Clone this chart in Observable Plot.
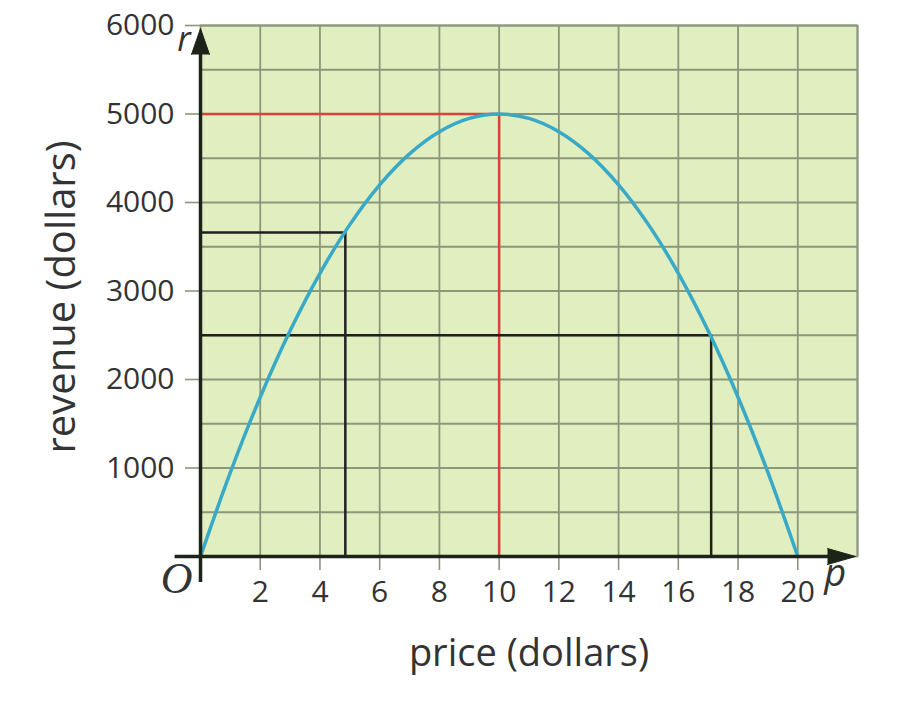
<!DOCTYPE html>
<html>
<head>
<meta charset="utf-8">
<script src="https://cdn.jsdelivr.net/npm/d3@7"></script>
<script src="https://cdn.jsdelivr.net/npm/@observablehq/plot@0.6"></script>
<style>
  body { margin: 0; background: #ffffff; }
</style>
</head>
<body>
<div id="chart"></div>
<script>
// ---- Data ----
const price   = [0, 1, 2, 3, 4, 5, 6, 7, 8, 9, 10, 11, 12, 13, 14, 15, 16, 17, 18, 19, 20];
const revenue = [0, 950, 1800, 2550, 3200, 3750, 4200, 4550, 4800, 4950, 5000, 4950, 4800, 4550, 4200, 3750, 3200, 2550, 1800, 950, 0];

const xTickLabels = [2, 4, 6, 8, 10, 12, 14, 16, 18, 20];
const yTickLabels = [1000, 2000, 3000, 4000, 5000, 6000];
const xGridValues = [2, 4, 6, 8, 10, 12, 14, 16, 18, 20, 22];
const yGridValues = [500, 1000, 1500, 2000, 2500, 3000, 3500, 4000, 4500, 5000, 5500, 6000];

const redMarkP = [10];
const redMarkR = [5000];
const blackMarkP = [4.85, 17.1];
const blackMarkR = [3660, 2500];

const xTitle = "price (dollars)";
const yTitle = "revenue (dollars)";

// ---- Tables built from the arrays ----
const curve = price.map((p, i) => ({p, r: revenue[i]}));
const red = redMarkP.map((p, i) => ({p, r: redMarkR[i]}));
const black = blackMarkP.map((p, i) => ({p, r: blackMarkR[i]}));

const green = "#e0eec0";
const gridColor = "#8a977c";
const textColor = "#333333";
const axisColor = "#1c2419";

const chart = Plot.plot({
  width: 921,
  height: 702,
  marginTop: 25,
  marginBottom: 146,
  marginLeft: 200,
  marginRight: 64,
  x: {domain: [0, 22]},
  y: {domain: [0, 6000]},
  style: {fontFamily: "'Open Sans', 'Noto Sans', sans-serif", background: "#ffffff", overflow: "visible"},
  marks: [
    Plot.frame({fill: green, stroke: gridColor, strokeWidth: 1.8}),
    Plot.ruleX(xGridValues, {y1: 0, y2: 6000, stroke: gridColor, strokeWidth: 1.8}),
    Plot.ruleY(yGridValues, {x1: 0, x2: 22, stroke: gridColor, strokeWidth: 1.8}),
    Plot.axisX({ticks: xTickLabels, tickFormat: d3.format("d"), tickSize: 14, tickPadding: 10, stroke: gridColor, strokeWidth: 1.6, fill: textColor, fontSize: 30, label: null}),
    Plot.axisY({ticks: yTickLabels, tickFormat: d3.format("d"), tickSize: 15, tickPadding: 11, stroke: gridColor, strokeWidth: 1.6, fill: textColor, fontSize: 30, label: null}),
    // guide lines
    Plot.ruleY(red, {y: "r", x1: 0, x2: "p", stroke: "#e0403a", strokeWidth: 2.5}),
    Plot.ruleX(red, {x: "p", y1: 0, y2: "r", stroke: "#e0403a", strokeWidth: 2.5}),
    Plot.ruleY(black, {y: "r", x1: 0, x2: "p", stroke: "#1f1f1f", strokeWidth: 2.5}),
    Plot.ruleX(black, {x: "p", y1: 0, y2: "r", stroke: "#1f1f1f", strokeWidth: 2.5}),
    // revenue curve
    Plot.line(curve, {x: "p", y: "r", curve: "catmull-rom", stroke: "#38a9c6", strokeWidth: 3.5}),
    // axes with arrows
    Plot.ruleX([0], {y1: -295, y2: 5800, stroke: axisColor, strokeWidth: 3.5}),
    Plot.ruleY([0], {x1: -0.85, x2: 21.3, stroke: axisColor, strokeWidth: 3.5}),
    Plot.vector([0], {x: 0, y: 6000, dy: 3, length: 26, r: 9, shape: "spike", anchor: "end", rotate: 0, fill: axisColor, stroke: axisColor, strokeWidth: 1}),
    Plot.vector([0], {x: 22, y: 0, dx: -2, length: 28, r: 8, shape: "spike", anchor: "end", rotate: 90, fill: axisColor, stroke: axisColor, strokeWidth: 1}),
    // axis letters
    Plot.text(["r"], {x: -0.55, y: 5830, text: d => d, fontSize: 34, fontStyle: "italic", fill: textColor}),
    Plot.text(["p"], {x: 21.25, y: -200, text: d => d, fontSize: 38, fontStyle: "italic", fill: textColor}),
    Plot.text(["O"], {x: -0.8, y: -250, text: d => d, fontSize: 44, fontStyle: "italic", fontFamily: "'Liberation Serif', serif", fill: textColor}),
    // axis titles
    Plot.text([xTitle], {frameAnchor: "bottom", textAnchor: "middle", lineAnchor: "middle", dy: 97, text: d => d, fontSize: 38, fill: textColor}),
    Plot.text([yTitle], {frameAnchor: "left", textAnchor: "middle", lineAnchor: "middle", dx: -138, dy: 6, rotate: -90, text: d => d, fontSize: 40, fill: textColor})
  ]
});

document.getElementById("chart").appendChild(chart);
</script>
</body>
</html>
